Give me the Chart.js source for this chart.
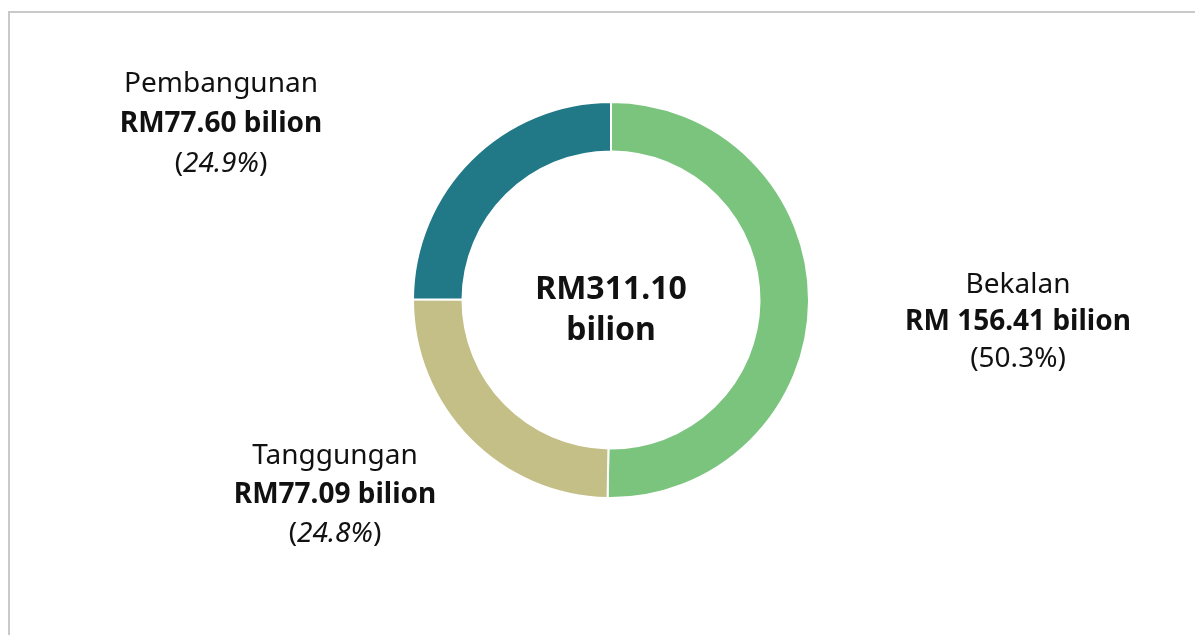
<!DOCTYPE html>
<html>
<head>
<meta charset="utf-8">
<script src="https://cdn.jsdelivr.net/npm/chart.js@4"></script>
<style>
    html, body { margin: 0; padding: 0; background: #ffffff; overflow: hidden; }
    #frame {
        position: absolute; left: 8px; top: 11px; width: 1300px; height: 800px;
        border-top: 2px solid #c9c9c9; border-left: 2px solid #c9c9c9;
    }
    #chart { position: absolute; left: 0; top: 0; }
</style>
</head>
<body>
<div id="frame"></div>
<canvas id="chart" width="1195" height="635"></canvas>
<script>
// data
const categories = ['Bekalan', 'Tanggungan', 'Pembangunan'];
const amounts = [156.41, 77.09, 77.60];            // RM bilion
const amountLabels = ['RM 156.41 bilion', 'RM77.09 bilion', 'RM77.60 bilion'];
const shareLabels = ['50.3%', '24.8%', '24.9%'];
const shareItalic = [false, true, true];
const totalLabel = ['RM311.10', 'bilion'];

const colors = ['#7bc47e', '#c4bf87', '#217887'];

// label anchor offsets from the doughnut centre (x, first baseline, line gap)
const labelOffsets = [[407, -7, 37], [-276, 164, 39], [-390, -208, 40]];
const FONT = '"Noto Sans", "Open Sans", sans-serif';
const SIZE = 28;

const textPlugin = {
    id: 'textLabels',
    afterDraw(chart) {
        const ctx = chart.ctx;
        const arc = chart.getDatasetMeta(0).data[0];
        const cx = arc.x, cy = arc.y;
        ctx.save();
        ctx.fillStyle = '#111111';
        ctx.textBaseline = 'alphabetic';
        ctx.textAlign = 'center';

        // centre total
        ctx.font = 'bold 32px ' + FONT;
        ctx.fillText(totalLabel[0], cx, cy - 1);
        ctx.fillText(totalLabel[1], cx, cy + 40);

        categories.forEach((name, i) => {
            const x = cx + labelOffsets[i][0];
            const y = cy + labelOffsets[i][1];
            const gap = labelOffsets[i][2];
            ctx.textAlign = 'center';
            ctx.font = SIZE + 'px ' + FONT;
            ctx.fillText(name, x, y);
            ctx.font = 'bold ' + SIZE + 'px ' + FONT;
            ctx.fillText(amountLabels[i], x, y + gap);

            // (share) with italic number, upright brackets
            const y3 = y + gap * 2;
            const up = SIZE + 'px ' + FONT;
            const it = (shareItalic[i] ? 'italic ' : '') + SIZE + 'px ' + FONT;
            ctx.font = up;
            const wl = ctx.measureText('(').width;
            const wr = ctx.measureText(')').width;
            ctx.font = it;
            const wm = ctx.measureText(shareLabels[i]).width;
            let sx = x - (wl + wm + wr) / 2;
            ctx.textAlign = 'left';
            ctx.font = up;
            ctx.fillText('(', sx, y3);
            ctx.font = it;
            ctx.fillText(shareLabels[i], sx + wl, y3);
            ctx.font = up;
            ctx.fillText(')', sx + wl + wm, y3);
        });
        ctx.restore();
    }
};

new Chart(document.getElementById('chart').getContext('2d'), {
    type: 'doughnut',
    data: {
        labels: categories,
        datasets: [{
            data: amounts,
            backgroundColor: colors,
            borderColor: '#ffffff',
            borderWidth: 2,
            hoverOffset: 0
        }]
    },
    options: {
        responsive: false,
        animation: false,
        cutout: '75%',
        rotation: 0,
        layout: { padding: { left: 412, right: 385, top: 101, bottom: 136 } },
        plugins: {
            legend: { display: false },
            tooltip: { enabled: false }
        }
    },
    plugins: [textPlugin]
});
</script>
</body>
</html>
